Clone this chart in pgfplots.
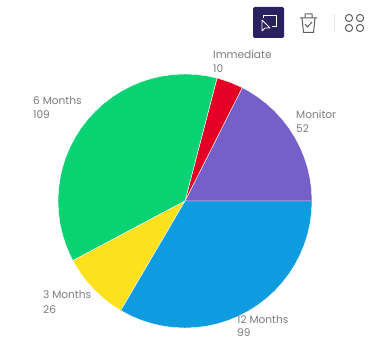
\documentclass[border=0pt]{standalone}
\usepackage{pgfplots}
\pgfplotsset{compat=1.18}
\usepgfplotslibrary{polar}
\usepackage{fontspec}
\setmainfont{Poppins}
\definecolor{cMonitor}{HTML}{7460C8}
\definecolor{cImmediate}{HTML}{E40024}
\definecolor{cSix}{HTML}{08D272}
\definecolor{cThree}{HTML}{FDE11C}
\definecolor{cTwelve}{HTML}{0F9BE0}
\definecolor{cText}{HTML}{7C7C7C}
\definecolor{cNavy}{HTML}{2A2160}
\definecolor{cIcon}{HTML}{5E5E5E}
\newcommand{\lbl}[3]{\node[anchor=west,text=cText,font=\fontsize{10.6}{12}\selectfont,inner sep=0pt] at (#1pt,340pt-#2pt) {#3};}
\begin{document}
\begin{tikzpicture}[x=1pt,y=1pt]
\useasboundingbox (0,0) rectangle (371,340);
\begin{scope}
\clip (0,0) rectangle (371,340);
\begin{polaraxis}[
  at={(185pt,139pt)}, anchor=center,
  scale only axis, width=254pt, height=254pt,
  xmin=0, xmax=360, ymin=0, ymax=1,
  hide axis, clip=false,
]
% Monitor 52
\addplot[fill=cMonitor,draw=white,line width=0.4pt] coordinates {(0,0)(0,1)(5,1)(10,1)(15,1)(20,1)(25,1)(30,1)(35,1)(40,1)(45,1)(50,1)(55,1)(60,1)(63.2,1)} -- cycle;
% Immediate 10
\addplot[fill=cImmediate,draw=white,line width=0.4pt] coordinates {(0,0)(63.2,1)(65,1)(70,1)(75,1)(75.4,1)} -- cycle;
% 6 Months 109
\addplot[fill=cSix,draw=white,line width=0.4pt] coordinates {(0,0)(75.4,1)(80,1)(85,1)(90,1)(95,1)(100,1)(105,1)(110,1)(115,1)(120,1)(125,1)(130,1)(135,1)(140,1)(145,1)(150,1)(155,1)(160,1)(165,1)(170,1)(175,1)(180,1)(185,1)(190,1)(195,1)(200,1)(205,1)(208,1)} -- cycle;
% 3 Months 26
\addplot[fill=cThree,draw=white,line width=0.4pt] coordinates {(0,0)(208,1)(210,1)(215,1)(220,1)(225,1)(230,1)(235,1)(239.6,1)} -- cycle;
% 12 Months 99
\addplot[fill=cTwelve,draw=white,line width=0.4pt] coordinates {(0,0)(239.6,1)(245,1)(250,1)(255,1)(260,1)(265,1)(270,1)(275,1)(280,1)(285,1)(290,1)(295,1)(300,1)(305,1)(310,1)(315,1)(320,1)(325,1)(330,1)(335,1)(340,1)(345,1)(350,1)(355,1)(360,1)} -- cycle;
\end{polaraxis}
% slice captions
\lbl{213}{55}{Immediate}
\lbl{213}{69}{10}
\lbl{33}{101}{6 Months}
\lbl{33}{115}{109}
\lbl{296}{115}{Monitor}
\lbl{296}{129}{52}
\lbl{43}{295}{3 Months}
\lbl{43}{310}{26}
\lbl{237}{320}{12 Months}
\lbl{237}{332.5}{99}
% toolbar: selection button
\fill[cNavy,rounded corners=1.5pt] (253,302) rectangle (284,333);
\draw[white,line width=0.8pt] (263,322) -- (263,325) -- (276,325) -- (276,314) -- (272,314);
\draw[white,line width=0.8pt,line join=round] (262,320) -- (262,309) -- (265,312) -- (270,312) -- cycle;
% toolbar: bin with tick
\draw[cIcon,line width=1pt,line join=round] (300,322) -- (317,322) (305,322) -- (305,326) -- (312,326) -- (312,322) (302,322) -- (303.5,307.5) -- (313.5,307.5) -- (315,322);
\draw[cIcon,line width=1pt] (305,316) -- (307.5,313) -- (312,318);
% toolbar: separator and tile icon
\draw[black!10,line width=0.9pt] (334,308) -- (334,326);
\draw[cIcon,line width=1pt] (349,322) circle (3.6) (360,322) circle (3.6) (349,312) circle (3.6) (360,312) circle (3.6);
\end{scope}
\end{tikzpicture}
\end{document}
